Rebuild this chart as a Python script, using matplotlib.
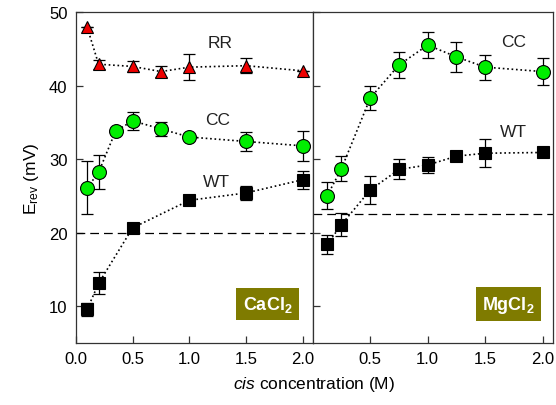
import numpy as np
import matplotlib.pyplot as plt

plt.rcParams['font.family'] = ['Liberation Sans', 'DejaVu Sans']
plt.rcParams['mathtext.fontset'] = 'custom'
plt.rcParams['mathtext.rm'] = 'Liberation Sans'
plt.rcParams['mathtext.it'] = 'Liberation Sans:italic'
plt.rcParams['mathtext.bf'] = 'Liberation Sans:bold'

# CaCl2 panel
ca_rr_x = [0.1, 0.2, 0.5, 0.75, 1.0, 1.5, 2.0]
ca_rr_y = [47.9, 42.9, 42.6, 41.9, 42.5, 42.7, 42.0]
ca_rr_e = [0, 0.6, 0.75, 0.7, 1.75, 1.0, 0]

ca_cc_x = [0.1, 0.2, 0.35, 0.5, 0.75, 1.0, 1.5, 2.0]
ca_cc_y = [26.1, 28.2, 33.8, 35.2, 34.1, 33.0, 32.4, 31.8]
ca_cc_e = [3.6, 2.3, 0, 1.2, 1.0, 0, 1.25, 2.0]

ca_wt_x = [0.1, 0.2, 0.5, 1.0, 1.5, 2.0]
ca_wt_y = [9.6, 13.1, 20.65, 24.4, 25.4, 27.2]
ca_wt_e = [0.9, 1.5, 0.7, 0, 1.0, 1.2]

# MgCl2 panel
mg_x = [0.125, 0.25, 0.5, 0.75, 1.0, 1.25, 1.5, 2.0]
mg_cc_y = [25.0, 28.7, 38.3, 42.8, 45.5, 43.9, 42.5, 41.9]
mg_cc_e = [1.85, 1.7, 1.6, 1.75, 1.8, 2.0, 1.7, 1.8]
mg_wt_y = [18.4, 21.1, 25.8, 28.6, 29.2, 30.4, 30.8, 30.9]
mg_wt_e = [1.25, 1.55, 1.85, 1.35, 1.05, 0, 1.9, 0]

ca_ref = 20.0
mg_ref = 22.5

fig = plt.figure(figsize=(5.56, 4.06), dpi=100)
ax1 = fig.add_axes([0.1365, 0.1527, 0.4265, 0.8153])
ax2 = fig.add_axes([0.5625, 0.1527, 0.4321, 0.8153], sharey=ax1)


def series(ax, x, y, e, marker, color, ms):
    ax.errorbar(x, y, yerr=e, fmt='none', ecolor='black', elinewidth=0.9,
                capsize=4, capthick=0.9, zorder=2)
    ax.plot(x, y, linestyle=':', color='black', linewidth=1.2, zorder=1)
    ax.plot(x, y, linestyle='none', marker=marker, color=color, ms=ms,
            markeredgecolor='black', markeredgewidth=0.8, zorder=3)


series(ax1, ca_rr_x, ca_rr_y, ca_rr_e, '^', '#ee0000', 9)
series(ax1, ca_cc_x, ca_cc_y, ca_cc_e, 'o', '#00ee00', 10)
series(ax1, ca_wt_x, ca_wt_y, ca_wt_e, 's', 'black', 8)
ax1.axhline(ca_ref, color='black', linestyle=(0, (7, 4)), linewidth=0.9)

series(ax2, mg_x, mg_cc_y, mg_cc_e, 'o', '#00ee00', 10)
series(ax2, mg_x, mg_wt_y, mg_wt_e, 's', 'black', 8)
ax2.axhline(mg_ref, color='black', linestyle=(0, (7, 4)), linewidth=0.9)

for ax in (ax1, ax2):
    ax.set_xlim(0, 2.09)
    ax.set_ylim(5, 50)
    ax.tick_params(direction='in', length=5, width=0.9, labelsize=12,
                   color='#333333', pad=6)
    for s in ax.spines.values():
        s.set_linewidth(0.9)
        s.set_color('#333333')

ax1.set_xticks([0.0, 0.5, 1.0, 1.5, 2.0])
ax1.set_xticklabels(['0.0', '0.5', '1.0', '1.5', '2.0'])
ax1.set_yticks([10, 20, 30, 40, 50])
ax2.set_xticks([0.5, 1.0, 1.5, 2.0])
ax2.set_xticklabels(['0.5', '1.0', '1.5', '2.0'])
ax2.tick_params(labelleft=False)

txt = dict(fontsize=12.5, color='#222222', ha='center', va='center')
ax1.text(1.27, 45.9, 'RR', **txt)
ax1.text(1.25, 35.4, 'CC', **txt)
ax1.text(1.24, 26.9, 'WT', **txt)
ax2.text(1.75, 46.0, 'CC', **txt)
ax2.text(1.75, 33.7, 'WT', **txt)

box = dict(boxstyle='square,pad=0.35', facecolor='#7f7b00', edgecolor='none')
ax1.text(1.69, 10.3, r'CaCl$_\mathbf{2}$', fontsize=13, fontweight='bold',
         color='white', ha='center', va='center', bbox=box)
ax2.text(1.70, 10.3, r'MgCl$_\mathbf{2}$', fontsize=13, fontweight='bold',
         color='white', ha='center', va='center', bbox=box)

ax1.set_ylabel(r'E$_{\rm rev}$ (mV)', fontsize=12.5, labelpad=6)
fig.text(0.565, 0.03, r'$\it{cis}$ concentration (M)', fontsize=12.5,
         ha='center', va='bottom')

fig.savefig('out.png', dpi=100)
